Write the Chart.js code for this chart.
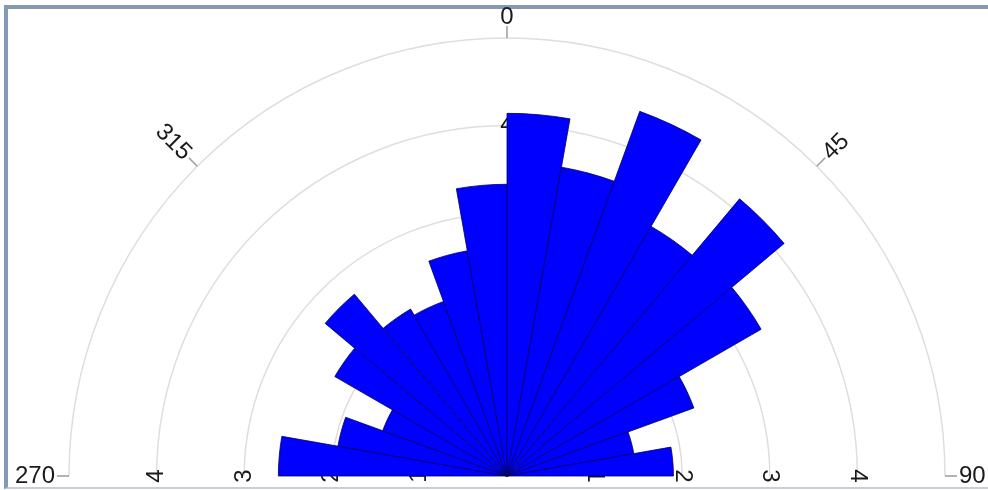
<!DOCTYPE html>
<html>
<head>
<meta charset="utf-8">
<script src="https://cdn.jsdelivr.net/npm/chart.js@4/dist/chart.umd.min.js"></script>
<style>
  html, body { margin: 0; padding: 0; background: #fff; }
  #wrap { position: relative; width: 988px; height: 490px; overflow: hidden; background: #fff; }
  #frame { position: absolute; left: 4px; top: 5px; width: 984px; height: 484px; box-sizing: border-box;
           border-top: 4px solid #8499b6; border-left: 4px solid #8499b6; border-bottom: 2px solid #c9ced6; }
  #holder { position: absolute; left: 0; top: 0; width: 988px; height: 952px; }
</style>
</head>
<body>
<div id="wrap">
  <div id="frame"></div>
  <div id="holder"><canvas id="c"></canvas></div>
</div>
<script>
// Sector start directions (degrees, clockwise from north), 10° wide each, from 270 through 0 to 90
const sectorLabels = ['270','280','290','300','310','320','330','340','350','0','10','20','30','40','50','60','70','80'];
// Radius of each sector (rose diagram values)
const sectorValues = [2.61, 1.96, 1.51, 2.27, 2.71, 2.20, 2.12, 2.61, 3.33, 4.14, 3.58, 4.43, 3.29, 4.13, 3.35, 2.27, 1.47, 1.90];
// Radial ring values and labels
const ringValues = [1, 2, 3, 4, 5];
const ringLabels = ['1', '2', '3', '4'];
// Compass directions labelled on the outer ring
const angleTicks = [270, 315, 0, 45, 90];
const angleTickLabels = ['270', '315', '0', '45', '90'];

const FONT_SIZE = 24;
const FONT = FONT_SIZE + 'px "Liberation Sans", Arial, sans-serif';

const roseDecor = {
  id: 'roseDecor',
  beforeDraw(chart) {
    const s = chart.scales.r;
    const ctx = chart.ctx;
    const xc = s.xCenter, yc = s.yCenter;
    ctx.save();
    ctx.strokeStyle = '#dedede';
    ctx.lineWidth = 1.5;
    ringValues.forEach(v => {
      const r = s.getDistanceFromCenterForValue(v);
      ctx.beginPath();
      ctx.arc(xc, yc, r, Math.PI, 2 * Math.PI);
      ctx.stroke();
    });
    ctx.fillStyle = '#1a1a1a';
    ctx.font = FONT;
    ctx.textAlign = 'center';
    ctx.textBaseline = 'middle';
    ringLabels.forEach((lab, i) => {
      const r = s.getDistanceFromCenterForValue(ringValues[i]);
      ctx.save();
      ctx.translate(xc + r, yc);
      ctx.rotate(Math.PI / 2);
      ctx.fillText(lab, 0, 0);
      ctx.restore();
      ctx.fillText(lab, xc, yc - r);
    });
    ctx.restore();
  },
  afterDraw(chart) {
    const s = chart.scales.r;
    const ctx = chart.ctx;
    const xc = s.xCenter, yc = s.yCenter;
    const R = s.getDistanceFromCenterForValue(ringValues[ringValues.length - 1]);
    ctx.save();
    ctx.font = FONT;
    angleTicks.forEach((deg, i) => {
      const t = deg * Math.PI / 180;
      const dx = Math.sin(t), dy = -Math.cos(t);
      ctx.strokeStyle = '#9a9a9a';
      ctx.lineWidth = 1.5;
      ctx.beginPath();
      ctx.moveTo(xc + R * dx, yc + R * dy);
      ctx.lineTo(xc + (R + 12) * dx, yc + (R + 12) * dy);
      ctx.stroke();
      ctx.fillStyle = '#1a1a1a';
      ctx.textBaseline = 'middle';
      if (deg === 0) {
        ctx.textAlign = 'center';
        ctx.fillText(angleTickLabels[i], xc, yc - (R + 21));
      } else {
        const ax = xc + (R + 14) * dx, ay = yc + (R + 14) * dy;
        ctx.save();
        ctx.translate(ax, ay);
        if (deg < 180) {
          ctx.rotate((deg - 90) * Math.PI / 180);
          ctx.textAlign = 'left';
        } else {
          ctx.rotate((deg - 270) * Math.PI / 180);
          ctx.textAlign = 'right';
        }
        ctx.fillText(angleTickLabels[i], 0, 0);
        ctx.restore();
      }
    });
    ctx.restore();
  }
};

// radial scale reserves (tick font size + 4) / 2 on each side; compensate so radius is 438 px
const pad = (FONT_SIZE + 4) / 2;

new Chart(document.getElementById('c'), {
  type: 'polarArea',
  data: {
    labels: sectorLabels,
    datasets: [{
      data: sectorValues,
      angle: 10,
      backgroundColor: '#0000ff',
      borderColor: '#000060',
      borderWidth: 0.8
    }]
  },
  options: {
    responsive: true,
    maintainAspectRatio: false,
    animation: false,
    layout: { padding: { left: 69 - pad, right: 43 - pad, top: 38 - pad, bottom: 38 - pad } },
    plugins: { legend: { display: false }, tooltip: { enabled: false } },
    scales: {
      r: {
        startAngle: -90,
        min: 0,
        max: 5,
        grid: { display: false },
        angleLines: { display: false },
        pointLabels: { display: false },
        ticks: {
          stepSize: 1,
          showLabelBackdrop: false,
          color: '#1a1a1a',
          font: { family: '"Liberation Sans", Arial, sans-serif', size: FONT_SIZE },
          callback: (v) => (ringLabels.includes(String(v)) ? String(v) : '')
        }
      }
    }
  },
  plugins: [roseDecor]
});
</script>
</body>
</html>
